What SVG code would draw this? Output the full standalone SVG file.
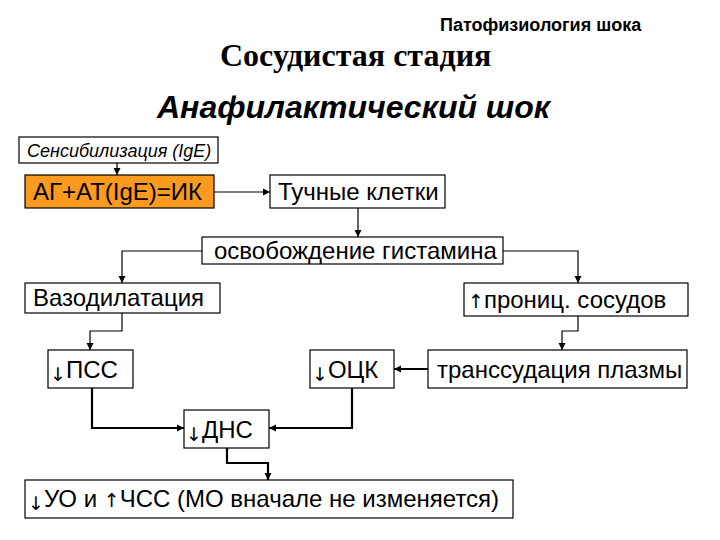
<svg xmlns="http://www.w3.org/2000/svg" width="720" height="540" viewBox="0 0 720 540">
<defs>
<marker id="ah" markerWidth="8" markerHeight="8" refX="7" refY="4" orient="auto" markerUnits="userSpaceOnUse">
<path d="M0,0.5 L7,4 L0,7.5 Z" fill="#000"/>
</marker>
<style>
.box{fill:#fff;stroke:#000;stroke-width:1.2}
.t{font-family:"Liberation Sans",Arial,sans-serif;font-size:24px;fill:#000}
.ar{font-family:"DejaVu Sans",sans-serif;font-size:19px}
.c1{fill:none;stroke:#000;stroke-width:1.2;marker-end:url(#ah)}
.c2{fill:none;stroke:#000;stroke-width:2.2;marker-end:url(#ah)}
</style>
</defs>
<rect width="720" height="540" fill="#fff"/>
<g id="titles">
<text x="440" y="31" font-family="'Liberation Sans',Arial,sans-serif" font-weight="bold" font-size="18">Патофизиология шока</text>
<text x="220" y="66" font-family="'Liberation Serif','Times New Roman',serif" font-weight="bold" font-size="32">Сосудистая стадия</text>
<text x="157" y="118" font-family="'Liberation Sans',Arial,sans-serif" font-weight="bold" font-style="italic" font-size="32">Анафилактический шок</text>
</g>
<g id="connectors">
<path class="c1" d="M117,163 V175"/>
<path class="c1" d="M214,192 H270"/>
<path class="c1" d="M358,208 V237"/>
<path class="c1" d="M202,251 H122 V283"/>
<path class="c1" d="M503,251 H578 V283"/>
<path class="c1" d="M122,313 V331 H90 V350"/>
<path class="c1" d="M578,316 V331 H562 V350"/>
<path class="c2" d="M428,369 H394"/>
<path class="c2" d="M92,388 V428 H184"/>
<path class="c2" d="M352,388 V428 H269"/>
<path class="c2" d="M227,448 V463 H268 V480"/>
</g>
<g id="n_sens">
<rect class="box" x="19" y="137" width="199" height="26"/>
<text x="27" y="157" font-family="'Liberation Sans',Arial,sans-serif" font-style="italic" font-size="18">Сенсибилизация (IgE)</text>
</g>
<g id="n_ik">
<rect x="25" y="175" width="189" height="33" fill="#FA9A1E" stroke="#000" stroke-width="1.2"/>
<text class="t" x="33" y="200">АГ+АТ(IgE)=ИК</text>
</g>
<g id="n_tuch">
<rect class="box" x="270" y="175" width="175" height="33"/>
<text class="t" x="278" y="200">Тучные клетки</text>
</g>
<g id="n_hist">
<rect class="box" x="202" y="237" width="301" height="27"/>
<text class="t" x="214" y="259" font-size="23">освобождение гистамина</text>
</g>
<g id="n_vaso">
<rect class="box" x="25" y="283" width="195" height="30"/>
<text class="t" x="33" y="306">Вазодилатация</text>
</g>
<g id="n_pron">
<rect class="box" x="464" y="283" width="224" height="33"/>
<text class="t" x="468" y="308"><tspan class="ar">↑</tspan>прониц. сосудов</text>
</g>
<g id="n_pss">
<rect class="box" x="48" y="350" width="85" height="38"/>
<text class="t" x="50" y="378"><tspan class="ar" dy="3">↓</tspan><tspan dy="-3">ПСС</tspan></text>
</g>
<g id="n_ock">
<rect class="box" x="310" y="350" width="84" height="38"/>
<text class="t" x="312" y="378"><tspan class="ar" dy="3">↓</tspan><tspan dy="-3">ОЦК</tspan></text>
</g>
<g id="n_trans">
<rect class="box" x="428" y="350" width="259" height="38"/>
<text class="t" x="437" y="378">транссудация плазмы</text>
</g>
<g id="n_dns">
<rect class="box" x="184" y="410" width="85" height="38"/>
<text class="t" x="186" y="438"><tspan class="ar" dy="3">↓</tspan><tspan dy="-3">ДНС</tspan></text>
</g>
<g id="n_uo">
<rect class="box" x="25" y="480" width="488" height="38"/>
<text class="t" x="28" y="507"><tspan class="ar" dy="3">↓</tspan><tspan dy="-3">УО и </tspan><tspan class="ar">↑</tspan>ЧСС (МО вначале не изменяется)</text>
</g>
</svg>
